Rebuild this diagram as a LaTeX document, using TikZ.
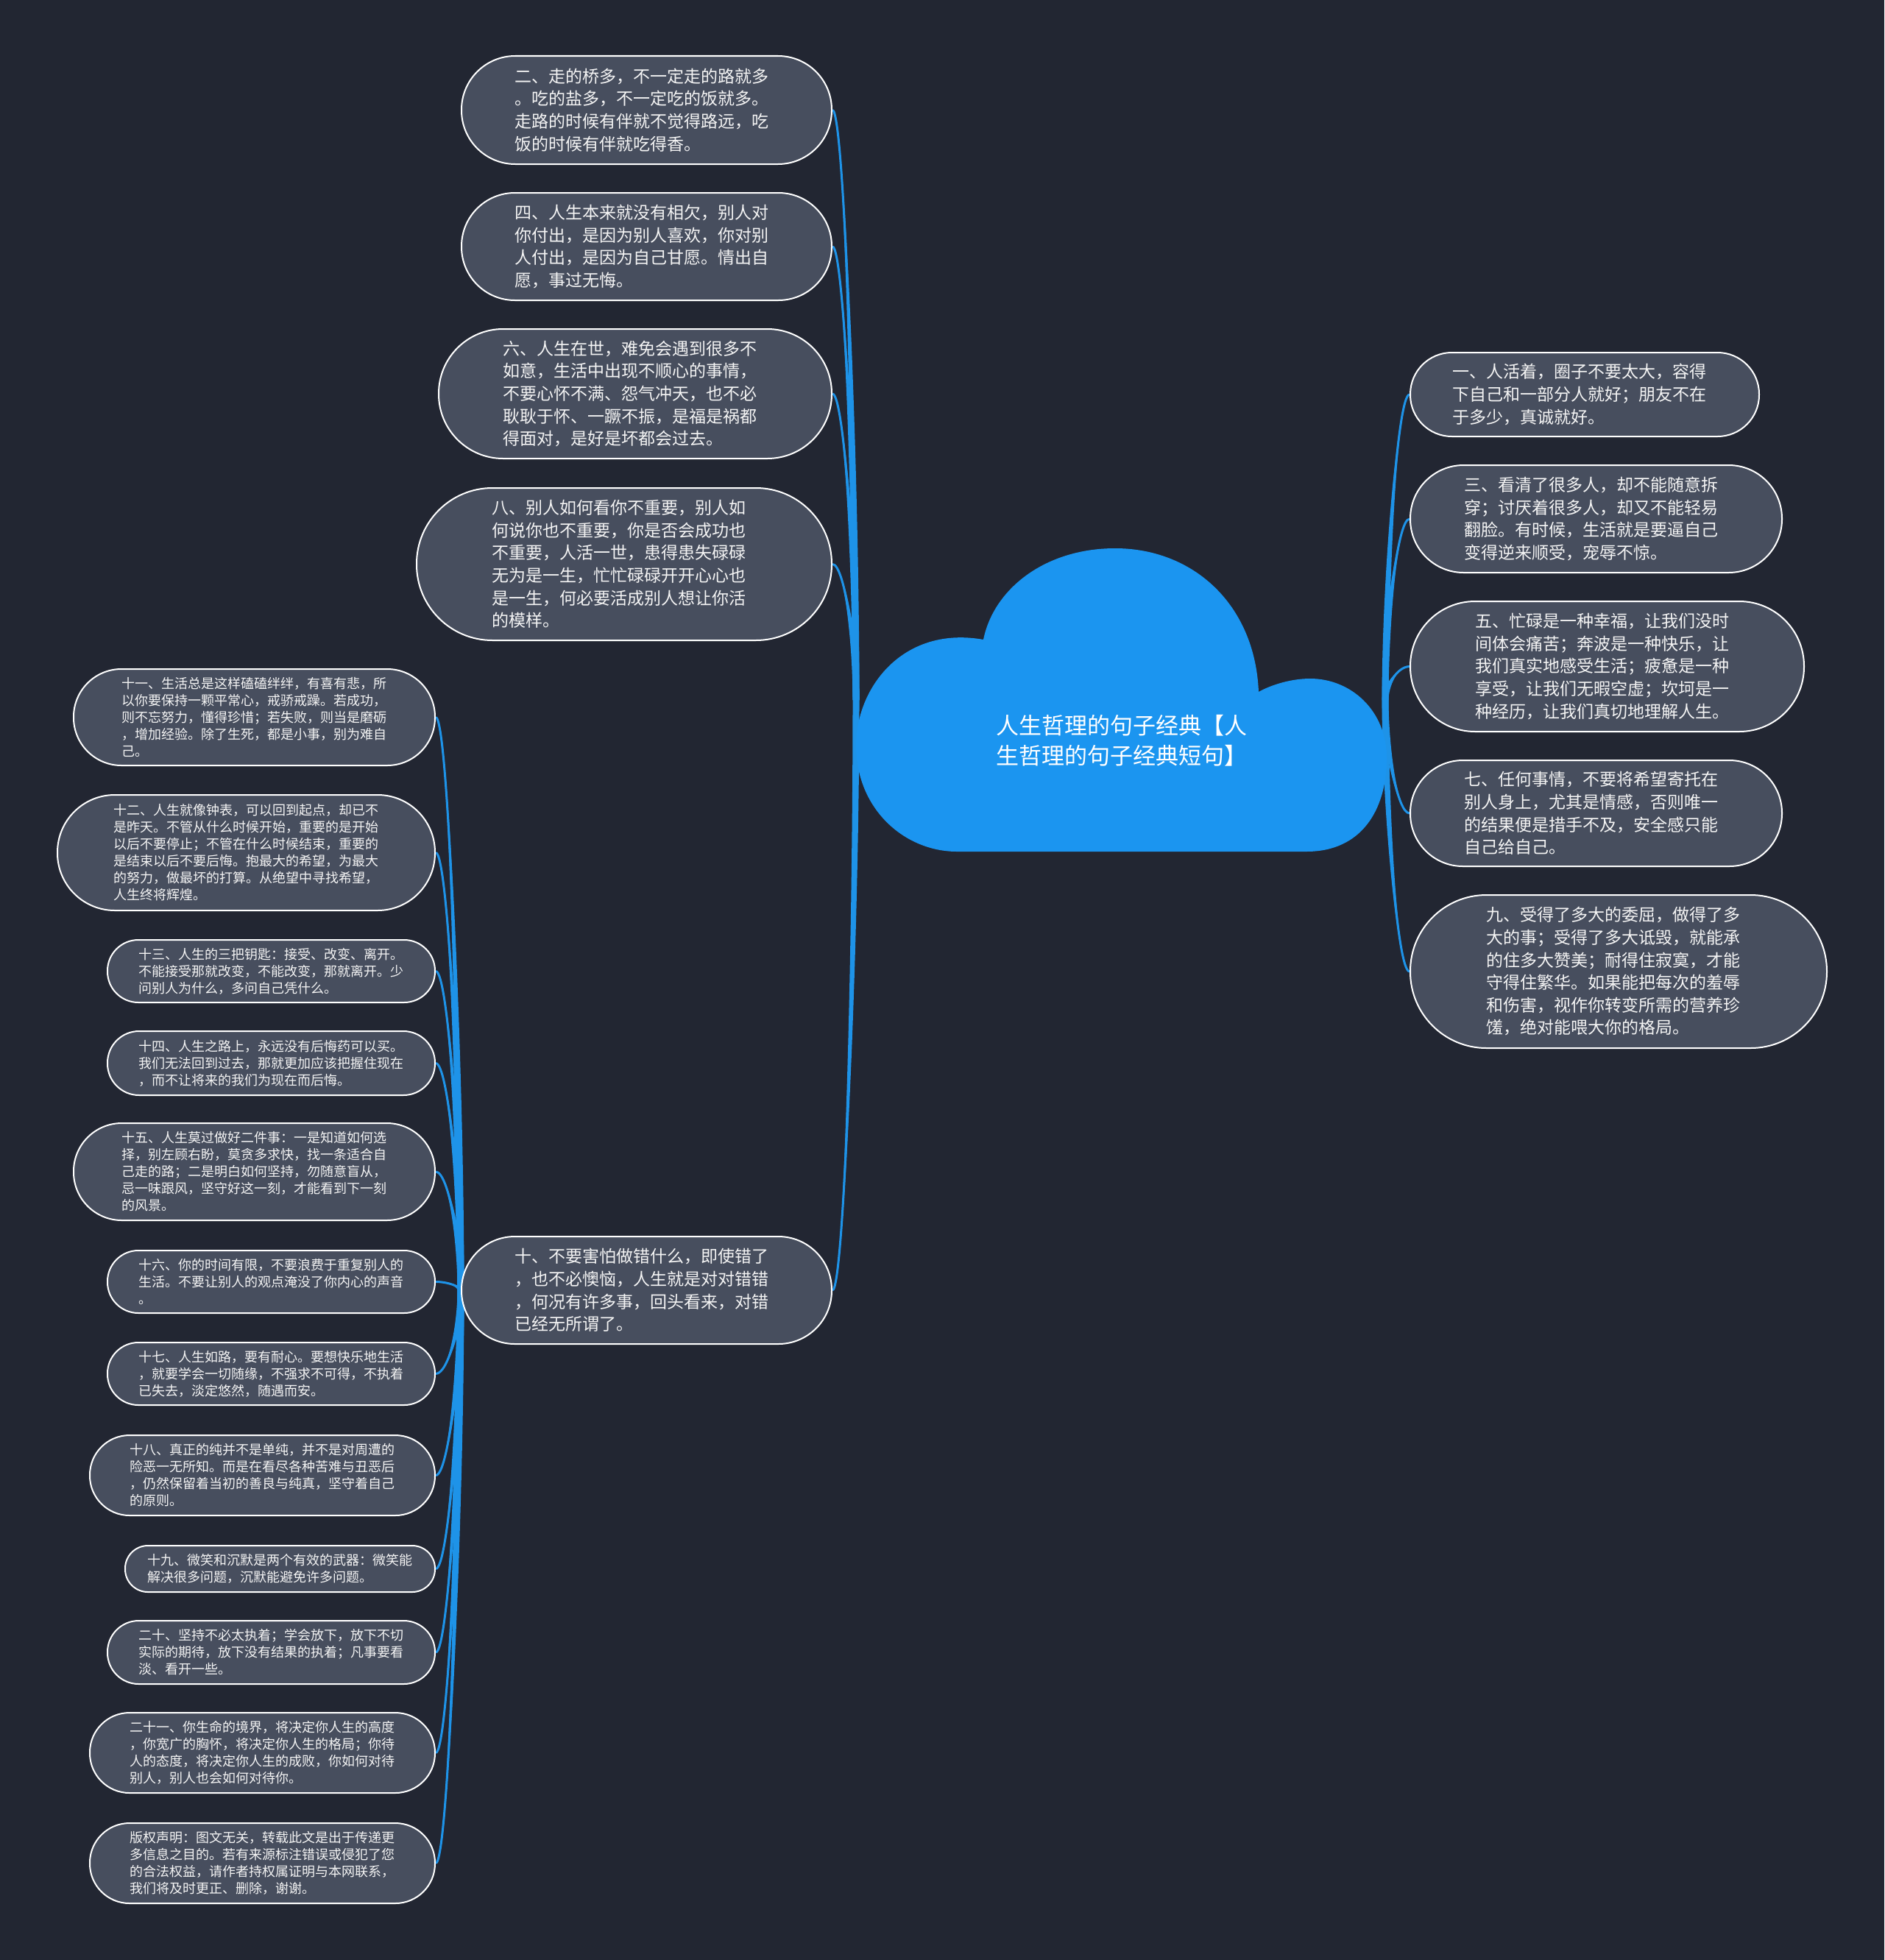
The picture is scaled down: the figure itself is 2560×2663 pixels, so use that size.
\documentclass[tikz,border=0pt]{standalone}
\usepackage{fontspec}
\newfontfamily\cjk{Noto Sans CJK SC}
\usetikzlibrary{calc}
\pgfdeclarelayer{bottom}
\pgfdeclarelayer{links}
\pgfsetlayers{bottom,links,main}
\definecolor{bg}{HTML}{222632}
\definecolor{nodefill}{HTML}{474E5E}
\definecolor{linkblue}{HTML}{1E93E8}
\definecolor{cloudblue}{HTML}{1B95F0}
\definecolor{txt}{HTML}{F4F4F4}
\tikzset{
  shell/.style={draw=white, line width=2pt, fill=nodefill, inner sep=0pt},
  bigtext/.style={text=txt, align=left, inner sep=0pt, font=\cjk\fontsize{23pt}{30.6pt}\selectfont},
  smallleaf/.style={shell, text=txt, align=left, font=\cjk\fontsize{18pt}{23pt}\selectfont},
  roottext/.style={text=white, align=left, inner sep=0pt, font=\cjk\fontsize{31pt}{41pt}\selectfont},
  linkfill/.style={fill=linkblue},
  linkline/.style={draw=linkblue, line width=3pt},
}
% big bubble: name, cx, cy, width, height, radius, text (text set a little left of centre)
\newcommand\bubble[7]{%
  \node[shell, minimum width=#4pt, minimum height=#5pt, rounded corners=#6pt] (#1) at (#2,#3) {};
  \node[bigtext] (#1t) at ($(#1.center)+(-7,0)$) {#7};
}
\newcommand\mmlink[2]{%
  \path[linkfill] let \p1=(#1), \p2=(#2) in
    (\x1-4.5pt,\y1) .. controls (\x1-4.5pt,{\y1+0.4*(\y2-\y1)}) and ({\x2+0.5*(\x1-\x2)},\y2) .. (\x2,\y2)
    .. controls ({\x2+0.5*(\x1-\x2)},\y2) and (\x1+4.5pt,{\y1+0.4*(\y2-\y1)}) .. (\x1+4.5pt,\y1) -- cycle;
  \draw[linkline] let \p1=(#1), \p2=(#2) in
    (\x1,\y1) .. controls (\x1,{\y1+0.4*(\y2-\y1)}) and ({\x2+0.5*(\x1-\x2)},\y2) .. (\x2,\y2);
}
\begin{document}
\begin{tikzpicture}[x=1pt,y=-1pt]
\begin{pgfonlayer}{bottom}
\fill[bg] (0,0) rectangle (2560,2663);
\end{pgfonlayer}
\useasboundingbox (0,0) rectangle (2560,2663);

% root anchors
\coordinate (rootL) at (1163,951);
\coordinate (rootR) at (1882,951);

% central cloud
\fill[cloudblue] (1300,1157) -- (1775,1157)
  .. controls (1850,1157) and (1884,1100) .. (1884,1030)
  .. controls (1884,965) and (1835,922) .. (1780,922)
  .. controls (1755,922) and (1728,930) .. (1710,940)
  .. controls (1705,820) and (1620,745) .. (1515,745)
  .. controls (1420,745) and (1350,800) .. (1336,869)
  .. controls (1230,850) and (1165,930) .. (1163,1010)
  .. controls (1162,1100) and (1230,1157) .. (1300,1157) -- cycle;
\node[roottext] (root) at (1524,1006) {人生哲理的句子经典【人\\生哲理的句子经典短句】};

% right nodes
\bubble{n1}{2153}{536}{474}{114}{56.5}
  {一、人活着，圈子不要太大，容得\\下自己和一部分人就好；朋友不在\\于多少，真诚就好。}
\bubble{n3}{2168.5}{705}{505}{146}{72.5}
  {三、看清了很多人，却不能随意拆\\穿；讨厌着很多人，却又不能轻易\\翻脸。有时候，生活就是要逼自己\\变得逆来顺受，宠辱不惊。}
\bubble{n5}{2183.5}{905.5}{535}{177}{88}
  {五、忙碌是一种幸福，让我们没时\\间体会痛苦；奔波是一种快乐，让\\我们真实地感受生活；疲惫是一种\\享受，让我们无暇空虚；坎坷是一\\种经历，让我们真切地理解人生。}
\bubble{n7}{2168.5}{1105}{505}{144}{71.5}
  {七、任何事情，不要将希望寄托在\\别人身上，尤其是情感，否则唯一\\的结果便是措手不及，安全感只能\\自己给自己。}
\bubble{n9}{2199}{1320}{566}{208}{103.5}
  {九、受得了多大的委屈，做得了多\\大的事；受得了多大诋毁，就能承\\的住多大赞美；耐得住寂寞，才能\\守得住繁华。如果能把每次的羞辱\\和伤害，视作你转变所需的营养珍\\馐，绝对能喂大你的格局。}

% left upper nodes
\bubble{n2}{878.5}{149.5}{503}{147}{73}
  {二、走的桥多，不一定走的路就多\\。吃的盐多，不一定吃的饭就多。\\走路的时候有伴就不觉得路远，吃\\饭的时候有伴就吃得香。}
\bubble{n4}{878.5}{335}{503}{146}{72.5}
  {四、人生本来就没有相欠，别人对\\你付出，是因为别人喜欢，你对别\\人付出，是因为自己甘愿。情出自\\愿，事过无悔。}
\bubble{n6}{863}{535}{534}{176}{87.5}
  {六、人生在世，难免会遇到很多不\\如意，生活中出现不顺心的事情，\\不要心怀不满、怨气冲天，也不必\\耿耿于怀、一蹶不振，是福是祸都\\得面对，是好是坏都会过去。}
\bubble{n8}{848}{766.5}{564}{207}{103}
  {八、别人如何看你不重要，别人如\\何说你也不重要，你是否会成功也\\不重要，人活一世，患得患失碌碌\\无为是一生，忙忙碌碌开开心心也\\是一生，何必要活成别人想让你活\\的模样。}
\bubble{n10}{878.5}{1753}{503}{146}{72.5}
  {十、不要害怕做错什么，即使错了\\，也不必懊恼，人生就是对对错错\\，何况有许多事，回头看来，对错\\已经无所谓了。}

% far left nodes
\node[smallleaf, minimum width=491pt, minimum height=131pt, rounded corners=65pt] (n11) at (345.5,974.5)
  {十一、生活总是这样磕磕绊绊，有喜有悲，所\\以你要保持一颗平常心，戒骄戒躁。若成功，\\则不忘努力，懂得珍惜；若失败，则当是磨砺\\，增加经验。除了生死，都是小事，别为难自\\己。};
\node[smallleaf, minimum width=513pt, minimum height=157pt, rounded corners=78pt] (n12) at (334.5,1158.5)
  {十二、人生就像钟表，可以回到起点，却已不\\是昨天。不管从什么时候开始，重要的是开始\\以后不要停止；不管在什么时候结束，重要的\\是结束以后不要后悔。抱最大的希望，为最大\\的努力，做最坏的打算。从绝望中寻找希望，\\人生终将辉煌。};
\node[smallleaf, minimum width=445pt, minimum height=85pt, rounded corners=42pt] (n13) at (368.5,1319.5)
  {十三、人生的三把钥匙：接受、改变、离开。\\不能接受那就改变，不能改变，那就离开。少\\问别人为什么，多问自己凭什么。};
\node[smallleaf, minimum width=445pt, minimum height=87pt, rounded corners=43pt] (n14) at (368.5,1444.5)
  {十四、人生之路上，永远没有后悔药可以买。\\我们无法回到过去，那就更加应该把握住现在\\，而不让将来的我们为现在而后悔。};
\node[smallleaf, minimum width=491pt, minimum height=132pt, rounded corners=65.5pt] (n15) at (345.5,1592)
  {十五、人生莫过做好二件事：一是知道如何选\\择，别左顾右盼，莫贪多求快，找一条适合自\\己走的路；二是明白如何坚持，勿随意盲从，\\忌一味跟风，坚守好这一刻，才能看到下一刻\\的风景。};
\node[smallleaf, minimum width=445pt, minimum height=85pt, rounded corners=42pt] (n16) at (368.5,1741.5)
  {十六、你的时间有限，不要浪费于重复别人的\\生活。不要让别人的观点淹没了你内心的声音\\。};
\node[smallleaf, minimum width=445pt, minimum height=85pt, rounded corners=42pt] (n17) at (368.5,1866.5)
  {十七、人生如路，要有耐心。要想快乐地生活\\，就要学会一切随缘，不强求不可得，不执着\\已失去，淡定悠然，随遇而安。};
\node[smallleaf, minimum width=469pt, minimum height=109pt, rounded corners=54pt] (n18) at (356.5,2004.5)
  {十八、真正的纯并不是单纯，并不是对周遭的\\险恶一无所知。而是在看尽各种苦难与丑恶后\\，仍然保留着当初的善良与纯真，坚守着自己\\的原则。};
\node[smallleaf, minimum width=421pt, minimum height=63pt, rounded corners=31pt] (n19) at (380.5,2131.5)
  {十九、微笑和沉默是两个有效的武器：微笑能\\解决很多问题，沉默能避免许多问题。};
\node[smallleaf, minimum width=445pt, minimum height=86pt, rounded corners=42.5pt] (n20) at (368.5,2245)
  {二十、坚持不必太执着；学会放下，放下不切\\实际的期待，放下没有结果的执着；凡事要看\\淡、看开一些。};
\node[smallleaf, minimum width=469pt, minimum height=109pt, rounded corners=54pt] (n21) at (356.5,2381.5)
  {二十一、你生命的境界，将决定你人生的高度\\，你宽广的胸怀，将决定你人生的格局；你待\\人的态度，将决定你人生的成败，你如何对待\\别人，别人也会如何对待你。};
\node[smallleaf, minimum width=469pt, minimum height=109pt, rounded corners=54pt] (n22) at (356.5,2531.5)
  {版权声明：图文无关，转载此文是出于传递更\\多信息之目的。若有来源标注错误或侵犯了您\\的合法权益，请作者持权属证明与本网联系，\\我们将及时更正、删除，谢谢。};

% connectors, drawn on a layer below the nodes
\begin{pgfonlayer}{links}
\foreach \t in {n2,n4,n6,n8,n10} {\mmlink{rootL}{\t.east}}
\foreach \t in {n1,n3,n5,n7,n9} {\mmlink{rootR}{\t.west}}
\foreach \t in {n11,n12,n13,n14,n15,n16,n17,n18,n19,n20,n21,n22} {\mmlink{n10.west}{\t.east}}
\end{pgfonlayer}
\end{tikzpicture}
\end{document}
